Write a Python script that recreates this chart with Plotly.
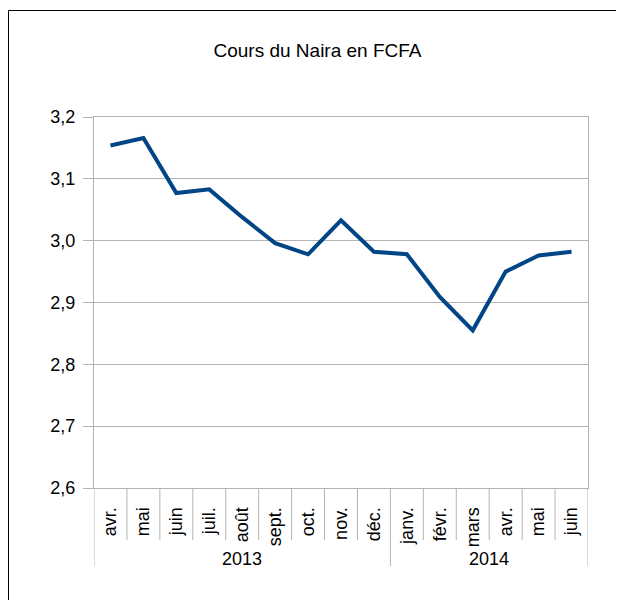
import plotly.graph_objects as go

annees = ['2013'] * 9 + ['2014'] * 6
mois = ['avr.', 'mai', 'juin', 'juil.', 'août', 'sept.', 'oct.', 'nov.', 'déc.',
        'janv.', 'févr.', 'mars', 'avr.', 'mai', 'juin']
cours = [3.154, 3.166, 3.077, 3.083, 3.038, 2.996, 2.978, 3.033, 2.982,
         2.978, 2.909, 2.855, 2.950, 2.976, 2.982]

pos = list(range(len(mois)))
grid = '#b3b3b3'
plot_w, plot_h = 494, 371  # plot area size in px, used to place things outside it

fig = go.Figure()
fig.add_trace(go.Scatter(
    x=pos,
    y=cours,
    mode='lines',
    line=dict(color='#004586', width=4),
    name='Cours',
))

# outer frame (only its top and left edges are in view)
fx = -85.5 / plot_w
fy = 1 + 106.5 / plot_h
shapes = [dict(type='path', xref='paper', yref='paper',
               path=f'M {fx},-0.4 L {fx},{fy} L 1.1,{fy}',
               line=dict(color='black', width=1))]

# year labels under the months; long dividers between years, short ones between months
annotations = []
bords_annees = [-0.5]
for an in dict.fromkeys(annees):
    idx = [i for i, a in enumerate(annees) if a == an]
    annotations.append(dict(x=sum(idx) / len(idx), xref='x', y=-71 / plot_h, yref='paper',
                            text=an, showarrow=False, yanchor='middle',
                            font=dict(size=18)))
    bords_annees.append(idx[-1] + 0.5)
segs = []
for i in range(len(mois) + 1):
    b = i - 0.5
    long = -78 if b in bords_annees else -52
    segs.append(f'M {b},0 L {b},{long / plot_h}')
shapes.append(dict(type='path', xref='x', yref='paper', path=' '.join(segs),
                   line=dict(color=grid, width=1)))

# the page body adds 8px around the figure, so the margins are 8px smaller
fig.update_layout(
    width=608, height=592,
    margin=dict(l=86, r=28, t=109, b=112),
    paper_bgcolor='white', plot_bgcolor='white',
    separators=', ',
    showlegend=False,
    font=dict(family='Liberation Sans, Arial, sans-serif', size=18, color='black'),
    title=dict(text='Cours du Naira en FCFA', xref='paper', x=223.5 / plot_w,
               xanchor='center', y=1 - 42 / 592, yanchor='middle', font=dict(size=19)),
    shapes=shapes,
    annotations=annotations,
)
fig.update_xaxes(
    range=[-0.5, len(mois) - 0.5],
    tickmode='array', tickvals=pos, ticktext=mois,
    tickangle=-90, ticks='outside', ticklen=11, tickcolor='rgba(0,0,0,0)',
    showline=True, linecolor=grid, mirror=True,
    showgrid=False, zeroline=False,
)
fig.update_yaxes(
    range=[2.6, 3.2], dtick=0.1, tickformat='.1f',
    ticks='outside', ticklen=10, tickcolor=grid, ticklabelstandoff=4,
    showgrid=True, gridcolor=grid,
    showline=True, linecolor=grid, mirror=True,
    zeroline=False,
)

fig.write_html('out.html')
